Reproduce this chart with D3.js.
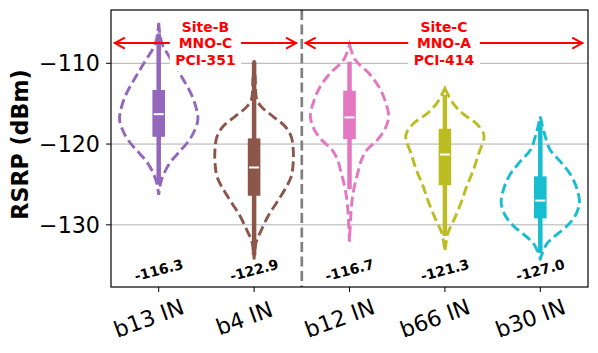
<!DOCTYPE html>
<html>
<head>
<meta charset="utf-8">
<script src="https://cdn.jsdelivr.net/npm/d3@7"></script>
<style>
    body { margin: 0; background: #fff; }
    text { font-family: "DejaVu Sans", sans-serif; }
</style>
</head>
<body>
<svg id="chart" width="598" height="353"></svg>
<script>
const categories = ["b13 IN", "b4 IN", "b12 IN", "b66 IN", "b30 IN"];
const medians = [-116.3, -122.9, -116.7, -121.3, -127.0];
const q1 = [-119.1, -126.4, -119.4, -125.1, -129.2];
const q3 = [-113.3, -119.3, -113.4, -118.1, -124.0];
const whiskerLow = [-125.0, -133.8, -125.6, -131.4, -133.5];
const whiskerHigh = [-106.3, -109.8, -109.8, -113.9, -117.4];
const yTicks = [-110, -120, -130];

// violin outlines: [RSRP, relative half width]
const densB13 = [[-105.0, 0], [-107.5, 0.08], [-110.0, 0.38], [-111.7, 0.59], [-113.7, 0.82], [-115.4, 0.95], [-117.0, 1], [-118.6, 0.89], [-119.9, 0.72], [-121.1, 0.5], [-122.3, 0.29], [-123.6, 0.14], [-124.8, 0.05], [-126.3, 0]];
const densB4 = [[-109.6, 0], [-112.0, 0.03], [-114.5, 0.07], [-115.4, 0.19], [-116.6, 0.49], [-117.8, 0.79], [-119.1, 0.95], [-120.7, 1], [-122.3, 1], [-124.0, 0.95], [-125.6, 0.79], [-127.3, 0.57], [-128.9, 0.36], [-130.6, 0.19], [-132.2, 0.05], [-134.3, 0]];
const densB12 = [[-107.7, 0], [-109.6, 0.15], [-111.2, 0.49], [-112.9, 0.75], [-114.5, 0.9], [-116.6, 1], [-118.2, 0.9], [-119.5, 0.71], [-120.7, 0.45], [-121.9, 0.31], [-123.6, 0.21], [-125.6, 0.11], [-127.7, 0.05], [-132.1, 0]];
const densB66 = [[-113.1, 0], [-114.9, 0.2], [-116.2, 0.45], [-117.4, 0.79], [-118.6, 0.98], [-119.3, 1], [-121.1, 0.87], [-123.2, 0.73], [-125.2, 0.56], [-127.3, 0.41], [-129.3, 0.24], [-131.0, 0.08], [-133.3, 0]];
const densB30 = [[-116.6, 0], [-118.6, 0.1], [-120.7, 0.25], [-122.3, 0.54], [-124.0, 0.8], [-125.6, 0.94], [-127.3, 1], [-128.9, 0.89], [-130.2, 0.67], [-131.4, 0.37], [-132.4, 0.16], [-134.2, 0]];
const densities = [densB13, densB4, densB12, densB66, densB30];

const sites = [
    { lines: ["Site-B", "MNO-C", "PCI-351"], from: -0.47, to: 1.45 },
    { lines: ["Site-C", "MNO-A", "PCI-414"], from: 1.53, to: 4.45 }
];
const siteSplit = 1.5;
const arrowLevel = -107.5;
const labelLevel = -135.6;

const colors = ["#9467bd", "#8c564b", "#e377c2", "#bcbd22", "#17becf"];

const margin = { top: 10, right: 10, bottom: 66, left: 111 };
const width = 598, height = 353;

const svg = d3.select("#chart");

const x = d3.scaleLinear()
    .domain([-0.5, categories.length - 0.5])
    .range([margin.left, width - margin.right]);

const y = d3.scaleLinear()
    .domain([-137.7, -103.4])
    .range([height - margin.bottom, margin.top]);

const halfWidth = 0.41 * (x(1) - x(0));

// grid
svg.append("g")
    .selectAll("line")
    .data(yTicks)
    .join("line")
    .attr("x1", margin.left)
    .attr("x2", width - margin.right)
    .attr("y1", d => y(d))
    .attr("y2", d => y(d))
    .attr("stroke", "#b0b0b0")
    .attr("stroke-width", 1);

// violins
const violin = (i) => d3.area()
    .curve(d3.curveCatmullRom.alpha(0.5))
    .y(d => y(d[0]))
    .x0(d => x(i) - d[1] * halfWidth)
    .x1(d => x(i) + d[1] * halfWidth);

svg.append("g")
    .selectAll("path")
    .data(densities)
    .join("path")
    .attr("d", (d, i) => violin(i)(d))
    .attr("fill", "none")
    .attr("stroke", (d, i) => colors[i])
    .attr("stroke-width", 2.9)
    .attr("stroke-dasharray", "10,4.5");

// inner box
const inner = svg.append("g");
inner.selectAll("line.whisker")
    .data(categories)
    .join("line")
    .attr("class", "whisker")
    .attr("x1", (d, i) => x(i))
    .attr("x2", (d, i) => x(i))
    .attr("y1", (d, i) => y(whiskerHigh[i]))
    .attr("y2", (d, i) => y(whiskerLow[i]))
    .attr("stroke", (d, i) => colors[i])
    .attr("stroke-width", 4.5);

inner.selectAll("rect")
    .data(categories)
    .join("rect")
    .attr("x", (d, i) => x(i) - 6.3)
    .attr("width", 12.6)
    .attr("y", (d, i) => y(q3[i]))
    .attr("height", (d, i) => y(q1[i]) - y(q3[i]))
    .attr("fill", (d, i) => colors[i]);

inner.selectAll("line.median")
    .data(medians)
    .join("line")
    .attr("class", "median")
    .attr("x1", (d, i) => x(i) - 5)
    .attr("x2", (d, i) => x(i) + 5)
    .attr("y1", d => y(d))
    .attr("y2", d => y(d))
    .attr("stroke", "#fff")
    .attr("stroke-width", 2);

// site separator
svg.append("line")
    .attr("x1", x(siteSplit))
    .attr("x2", x(siteSplit))
    .attr("y1", margin.top)
    .attr("y2", height - margin.bottom)
    .attr("stroke", "#808080")
    .attr("stroke-width", 2.7)
    .attr("stroke-dasharray", "10,4.5");

// site arrows
const ay = y(arrowLevel);
sites.forEach((s) => {
    const g = svg.append("g");
    const x0 = x(s.from), x1 = x(s.to);
    g.append("line")
        .attr("x1", x0).attr("x2", x1)
        .attr("y1", ay).attr("y2", ay)
        .attr("stroke", "red").attr("stroke-width", 2);
    g.append("path")
        .attr("d", `M${x0 + 11},${ay - 5.5}L${x0 + 1},${ay}L${x0 + 11},${ay + 5.5}`
            + `M${x1 - 11},${ay - 5.5}L${x1 - 1},${ay}L${x1 - 11},${ay + 5.5}`)
        .attr("fill", "none")
        .attr("stroke", "red")
        .attr("stroke-width", 2);

    const cx = (x0 + x1) / 2;
    const bg = g.append("rect").attr("fill", "#fff");
    const t = g.append("text")
        .attr("text-anchor", "middle")
        .attr("font-size", "13.9px")
        .attr("font-weight", "bold")
        .attr("fill", "red");
    t.selectAll("tspan")
        .data(s.lines)
        .join("tspan")
        .attr("x", cx)
        .attr("y", (d, i) => ay + 5 + (i - 1) * 16.5)
        .text(d => d);
    const b = t.node().getBBox();
    bg.attr("x", b.x - 5.5).attr("y", b.y - 4)
        .attr("width", b.width + 11).attr("height", b.height + 8);
});

// frame
svg.append("rect")
    .attr("x", margin.left)
    .attr("y", margin.top)
    .attr("width", width - margin.right - margin.left)
    .attr("height", height - margin.bottom - margin.top)
    .attr("fill", "none")
    .attr("stroke", "#000")
    .attr("stroke-width", 1.2);

// median labels
const labels = svg.append("g")
    .selectAll("g")
    .data(medians)
    .join("g")
    .attr("transform", (d, i) => `translate(${x(i)},${y(labelLevel)}) rotate(-15)`);
labels.append("rect").attr("fill", "#fff");
labels.append("text")
    .attr("text-anchor", "middle")
    .attr("dominant-baseline", "central")
    .attr("font-size", "13.9px")
    .attr("font-weight", "bold")
    .text(d => d3.format(".1f")(d).replace("−", "-"));
labels.each(function () {
    const b = d3.select(this).select("text").node().getBBox();
    d3.select(this).select("rect")
        .attr("x", b.x - 3).attr("y", b.y - 1)
        .attr("width", b.width + 6).attr("height", b.height + 2);
});

// y axis
const yAxis = svg.append("g");
yAxis.selectAll("line")
    .data(yTicks)
    .join("line")
    .attr("x1", margin.left - 5)
    .attr("x2", margin.left)
    .attr("y1", d => y(d))
    .attr("y2", d => y(d))
    .attr("stroke", "#000");
yAxis.selectAll("text")
    .data(yTicks)
    .join("text")
    .attr("x", margin.left - 11)
    .attr("y", d => y(d))
    .attr("text-anchor", "end")
    .attr("dominant-baseline", "central")
    .attr("font-size", "22.2px")
    .text(d => "\u2212" + Math.abs(d));

svg.append("text")
    .attr("transform", `translate(20,${(margin.top + height - margin.bottom) / 2 - 4}) rotate(-90)`)
    .attr("text-anchor", "middle")
    .attr("dominant-baseline", "central")
    .attr("font-size", "22.2px")
    .attr("font-weight", "bold")
    .text("RSRP (dBm)");

// x axis
const xAxis = svg.append("g");
xAxis.selectAll("line")
    .data(categories)
    .join("line")
    .attr("x1", (d, i) => x(i))
    .attr("x2", (d, i) => x(i))
    .attr("y1", height - margin.bottom)
    .attr("y2", height - margin.bottom + 5)
    .attr("stroke", "#000");
xAxis.selectAll("text")
    .data(categories)
    .join("text")
    .attr("transform", (d, i) => `translate(${x(i) - 10},${height - margin.bottom + 31}) rotate(-20)`)
    .attr("text-anchor", "middle")
    .attr("dominant-baseline", "central")
    .attr("font-size", "22.2px")
    .text(d => d);
</script>
</body>
</html>
